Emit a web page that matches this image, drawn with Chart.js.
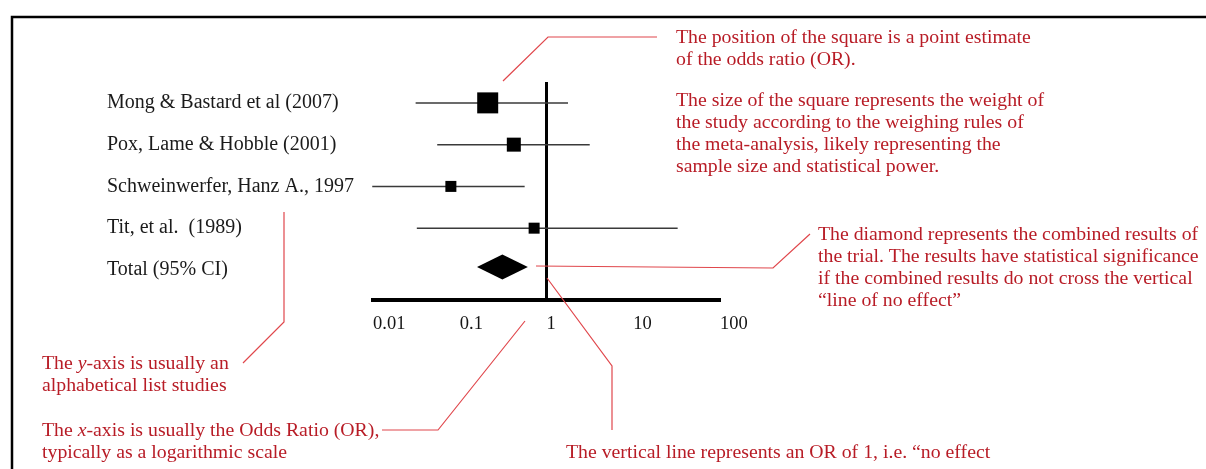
<!DOCTYPE html>
<html>
<head>
<meta charset="utf-8">
<script src="https://cdn.jsdelivr.net/npm/chart.js@4.4.1/dist/chart.umd.min.js"></script>
<style>
  html, body { margin: 0; padding: 0; background: #fff; }
  canvas { display: block; }
</style>
</head>
<body>
<canvas id="forest" width="1206" height="469"></canvas>
<script>
// study rows, top to bottom
const studies = ["Mong & Bastard et al (2007)", "Pox, Lame & Hobble (2001)", "Schweinwerfer, Hanz A., 1997", "Tit, et al.  (1989)"];
const totalLabel = "Total (95% CI)";
const oddsRatio = [0.21, 0.42, 0.079, 0.72];
const ciLow = [0.031, 0.055, 0.0098, 0.032];
const ciHigh = [1.77, 3.15, 0.56, 32.5];
const weights = [21, 14, 11, 11]; // square side
const totalOR = [0.31];
const totalLow = [0.158];
const totalHigh = [0.61];
const xTicks = [0.01, 0.1, 1, 10, 100];

const rowLabels = studies.concat([totalLabel]);
const RED = "#b81c26";
const LEAD = "#e0474c";
const SERIF = "'Liberation Serif', 'Times New Roman', serif";

function drawRuns(ctx, runs, x, y, size) {
  for (const [txt, italic] of runs) {
    ctx.font = (italic ? "italic " : "") + size + "px " + SERIF;
    ctx.fillText(txt, x, y);
    x += ctx.measureText(txt).width;
  }
}

const notes = [
  { x: 676, y: 38, lines: [[["The position of the square is a point estimate"]], [["of the odds ratio (OR)."]]] },
  { x: 676, y: 101, lines: [[["The size of the square represents the weight of"]], [["the study according to the weighing rules of"]], [["the meta-analysis, likely representing the"]], [["sample size and statistical power."]]] },
  { x: 818, y: 235, lines: [[["The diamond represents the combined results of"]], [["the trial. The results have statistical significance"]], [["if the combined results do not cross the vertical"]], [["\u201cline of no effect\u201d"]]] },
  { x: 42, y: 364, lines: [[["The "], ["y", true], ["-axis is usually an"]], [["alphabetical list studies"]]] },
  { x: 42, y: 431, lines: [[["The "], ["x", true], ["-axis is usually the Odds Ratio (OR),"]], [["typically as a logarithmic scale"]]] },
  { x: 566, y: 453, lines: [[["The vertical line represents an OR of 1, i.e. \u201cno effect"]]] },
];

const leaders = [
  [[503, 81], [548, 37], [657, 37]],
  [[536, 266], [773, 268], [810, 234]],
  [[284, 212], [284, 322], [243, 363]],
  [[382, 430], [438, 430], [525, 321]],
  [[547, 278], [612, 366], [612, 430]],
];

const forestPlugin = {
  id: "forest",
  beforeDatasetsDraw(chart) {
    const { ctx, chartArea, scales: { x, y } } = chart;
    ctx.save();
    // line of no effect
    ctx.strokeStyle = "#000";
    ctx.lineWidth = 3;
    ctx.beginPath();
    ctx.moveTo(x.getPixelForValue(1), chartArea.top);
    ctx.lineTo(x.getPixelForValue(1), chartArea.bottom);
    ctx.stroke();
    // confidence intervals
    ctx.strokeStyle = "#3a3a3a";
    ctx.lineWidth = 1.5;
    studies.forEach((s, i) => {
      const py = y.getPixelForValue(i);
      ctx.beginPath();
      ctx.moveTo(x.getPixelForValue(ciLow[i]), py);
      ctx.lineTo(x.getPixelForValue(ciHigh[i]), py);
      ctx.stroke();
    });
    // combined diamond
    const ty = y.getPixelForValue(studies.length) - 3;
    ctx.fillStyle = "#000";
    ctx.beginPath();
    ctx.moveTo(x.getPixelForValue(totalLow[0]), ty);
    ctx.lineTo(x.getPixelForValue(totalOR[0]), ty - 12.5);
    ctx.lineTo(x.getPixelForValue(totalHigh[0]), ty);
    ctx.lineTo(x.getPixelForValue(totalOR[0]), ty + 12.5);
    ctx.closePath();
    ctx.fill();
    ctx.restore();
  },
  afterDraw(chart) {
    const { ctx } = chart;
    ctx.save();
    ctx.strokeStyle = "#000";
    ctx.lineWidth = 2.5;
    ctx.strokeRect(12, 17, 1400, 600);

    ctx.strokeStyle = LEAD;
    ctx.lineWidth = 1.2;
    leaders.forEach(pts => {
      ctx.beginPath();
      pts.forEach(([px, py], k) => (k ? ctx.lineTo(px, py) : ctx.moveTo(px, py)));
      ctx.stroke();
    });

    ctx.fillStyle = RED;
    ctx.textBaseline = "middle";
    ctx.textAlign = "left";
    notes.forEach(n => {
      n.lines.forEach((runs, k) => drawRuns(ctx, runs, n.x, n.y + k * 22, 19.8));
    });
    ctx.restore();
  }
};

new Chart(document.getElementById("forest"), {
  type: "scatter",
  data: {
    datasets: [{
      data: oddsRatio.map((v, i) => ({ x: v, y: i })),
      pointStyle: "rect",
      pointRadius: weights.map(w => w / Math.SQRT2),
      pointHoverRadius: weights.map(w => w / Math.SQRT2),
      backgroundColor: "#000",
      borderWidth: 0
    }]
  },
  options: {
    responsive: false,
    animation: false,
    layout: { padding: { left: 107, right: 486, top: 82, bottom: 124 } },
    plugins: { legend: { display: false }, tooltip: { enabled: false } },
    scales: {
      x: {
        type: "logarithmic",
        min: 0.01,
        max: 100,
        afterBuildTicks: s => { s.ticks = xTicks.map(v => ({ value: v })); },
        afterFit: s => { s.height = 45; s.paddingLeft = 0; s.paddingRight = 0; },
        ticks: {
          align: "start",
          autoSkip: false,
          maxRotation: 0,
          padding: 13,
          color: "#151515",
          font: { family: SERIF, size: 18.5 },
          callback: v => String(v)
        },
        grid: { display: false, drawTicks: false },
        border: { display: true, color: "#000", width: 4 }
      },
      y: {
        type: "linear",
        reverse: true,
        min: -0.5,
        max: 4.72,
        afterBuildTicks: s => { s.ticks = rowLabels.map((l, i) => ({ value: i })); },
        afterFit: s => { s.width = 266; s.paddingTop = 0; s.paddingBottom = 0; },
        ticks: {
          crossAlign: "far",
          padding: 0,
          color: "#1a1a1a",
          font: { family: SERIF, size: 20 },
          callback: v => rowLabels[v]
        },
        grid: { display: false, drawTicks: false },
        border: { display: false }
      }
    }
  },
  plugins: [forestPlugin]
});
</script>
</body>
</html>
